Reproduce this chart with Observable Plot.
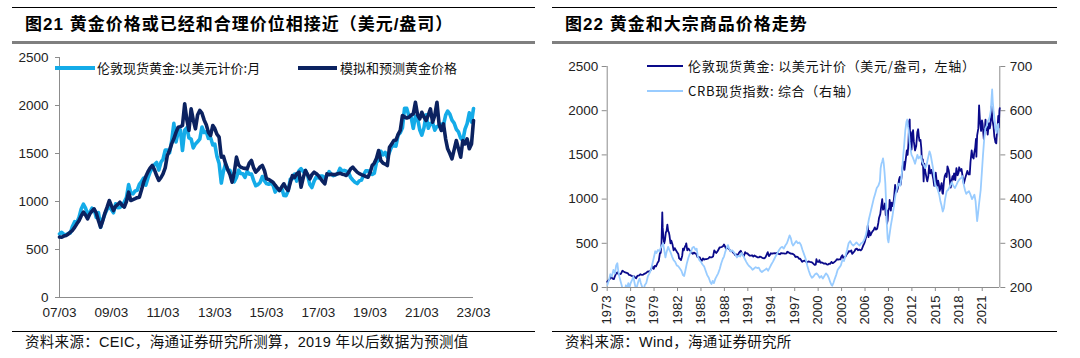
<!DOCTYPE html>
<html><head><meta charset="utf-8">
<script src="https://cdn.jsdelivr.net/npm/d3@7"></script>
<script src="https://cdn.jsdelivr.net/npm/@observablehq/plot@0.6"></script>
<style>
html,body{margin:0;padding:0;background:#fff;width:1080px;height:358px;overflow:hidden;}
.abs{position:absolute;}
.title{font-family:"Liberation Sans","Noto Sans CJK SC",sans-serif;font-weight:bold;font-size:17px;line-height:20px;color:#000;white-space:nowrap;letter-spacing:1px;}
.cap{font-family:"Liberation Sans","Noto Sans CJK SC",sans-serif;font-size:14.5px;line-height:16px;color:#111;white-space:nowrap;letter-spacing:0.3px;}
.leg{font-family:"Noto Sans CJK SC",sans-serif;font-size:13px;line-height:16px;color:#111;white-space:nowrap;}
.leg2{letter-spacing:0.7px;}
.rule{position:absolute;}
svg{overflow:visible;}
</style></head>
<body>
<script>
// ---------- Left chart data (monthly, 2007-03 .. 2023-03) ----------
const leftStart = [2007, 3];
const spotGold = [
662,679,659,651,666,672,743,790,784,834,
923,972,934,871,886,930,918,833,885,731,815,870,
920,943,917,883,976,935,939,956,996,1040,1176,1088,
1079,1110,1116,1179,1208,1244,1169,1246,1308,1347,1384,1406,
1327,1411,1439,1536,1537,1506,1629,1814,1620,1722,1746,1531,
1744,1770,1663,1651,1558,1599,1622,1649,1776,1719,1726,1658,
1665,1589,1598,1469,1395,1192,1315,1395,1327,1324,1253,1205,
1251,1327,1292,1289,1251,1315,1285,1286,1217,1164,1176,1199,
1260,1214,1187,1180,1189,1171,1098,1135,1114,1142,1062,1060,
1112,1235,1237,1286,1212,1321,1342,1309,1323,1272,1178,1146,
1213,1256,1245,1266,1266,1242,1268,1312,1283,1270,1280,1291,
1345,1318,1324,1315,1305,1250,1224,1201,1187,1215,1223,1279,
1320,1319,1295,1283,1296,1409,1428,1523,1485,1511,1460,1515,
1573,1586,1577,1694,1716,1768,1971,1970,1887,1880,1762,1888,
1863,1743,1691,1768,1903,1763,1812,1819,1743,1782,1785,1806,
1797,1900,1942,1911,1848,1817,1753,1726,1661,1634,1754,1812,
1924,1827,1969
];
const modelGold = [
630,628,640,646,660,681,700,730,767,800,
850,889,860,819,870,900,924,880,800,733,800,880,
941,1010,960,906,950,970,993,960,941,1000,1097,1010,
1020,1030,1040,1045,1120,1201,1260,1310,1350,1375,1330,1270,
1219,1250,1288,1350,1480,1531,1600,1653,1720,1774,1780,1792,
2017,1850,1740,1965,1850,1757,1900,1948,1920,1850,1800,1720,
1688,1792,1760,1700,1670,1462,1470,1393,1330,1280,1201,1300,
1462,1380,1358,1350,1345,1340,1400,1427,1350,1306,1330,1360,
1375,1320,1236,1230,1215,1201,1170,1140,1115,1150,1184,1140,
1115,1200,1271,1250,1290,1306,1149,1250,1323,1280,1236,1280,
1306,1290,1271,1240,1210,1184,1288,1280,1285,1280,1280,1290,
1295,1285,1280,1271,1300,1340,1358,1330,1306,1290,1280,1271,
1260,1253,1300,1375,1400,1450,1531,1427,1400,1390,1375,1566,
1600,1635,1640,1700,1740,1896,1880,1870,1878,1900,1913,2034,
1900,1861,1930,1880,1844,1900,1965,1826,1900,2034,1800,1740,
1809,1650,1549,1500,1444,1540,1635,1550,1462,1635,1600,1653,
1549,1600,1844
];
const leftYTicks = [0,500,1000,1500,2000,2500];
const leftXTickYears = [2007,2009,2011,2013,2015,2017,2019,2021,2023];
const leftLegend = ["伦敦现货黄金:以美元计价:月","模拟和预测黄金价格"];

// ---------- Right chart data (decimal year, value) ----------
const goldLondon = [
[1973.0,65],[1973.15,80],[1973.3,92],[1973.45,120],[1973.55,115],[1973.7,100],[1973.85,95],
[1974.0,130],[1974.15,160],[1974.3,172],[1974.45,150],[1974.6,150],[1974.75,155],[1974.95,190],
[1975.1,180],[1975.3,170],[1975.5,165],[1975.65,160],[1975.8,142],[1975.95,140],
[1976.1,132],[1976.25,128],[1976.45,125],[1976.6,110],[1976.7,105],[1976.85,130],[1976.95,134],
[1977.1,138],[1977.25,150],[1977.45,142],[1977.6,145],[1977.75,155],[1977.95,162],
[1978.1,175],[1978.25,182],[1978.45,180],[1978.6,200],[1978.8,240],[1978.95,210],
[1979.1,245],[1979.25,240],[1979.45,280],[1979.6,300],[1979.75,390],[1979.85,390],[1979.95,500],
[1980.05,850],[1980.1,680],[1980.2,560],[1980.3,500],[1980.4,540],[1980.5,620],[1980.6,640],[1980.7,710],[1980.8,640],[1980.9,620],[1980.97,590],
[1981.1,500],[1981.2,530],[1981.35,490],[1981.5,420],[1981.65,445],[1981.8,420],[1981.95,400],
[1982.1,380],[1982.2,330],[1982.35,320],[1982.45,310],[1982.6,360],[1982.7,440],[1982.8,420],[1982.9,450],
[1983.05,480],[1983.12,500],[1983.25,420],[1983.4,440],[1983.55,420],[1983.7,410],[1983.85,390],[1983.95,380],
[1984.1,395],[1984.25,385],[1984.4,380],[1984.55,345],[1984.7,345],[1984.85,340],[1984.95,320],
[1985.1,300],[1985.25,330],[1985.4,315],[1985.55,320],[1985.7,320],[1985.85,325],[1985.95,328],
[1986.1,345],[1986.25,340],[1986.4,342],[1986.55,350],[1986.7,420],[1986.85,400],[1986.95,390],
[1987.1,405],[1987.25,430],[1987.4,455],[1987.55,455],[1987.7,460],[1987.85,470],[1987.95,486],
[1988.05,470],[1988.2,440],[1988.35,450],[1988.5,440],[1988.65,430],[1988.8,410],[1988.95,415],
[1989.1,395],[1989.25,385],[1989.4,365],[1989.55,375],[1989.7,360],[1989.85,390],[1989.97,405],
[1990.1,415],[1990.25,380],[1990.4,365],[1990.5,355],[1990.65,400],[1990.8,385],[1990.95,385],
[1991.1,370],[1991.25,360],[1991.4,360],[1991.55,365],[1991.7,350],[1991.85,362],[1991.95,355],
[1992.1,350],[1992.25,340],[1992.4,340],[1992.55,350],[1992.7,345],[1992.85,335],[1992.95,333],
[1993.1,330],[1993.25,340],[1993.4,370],[1993.55,400],[1993.7,355],[1993.85,372],[1993.95,388],
[1994.1,382],[1994.25,385],[1994.45,388],[1994.6,385],[1994.75,392],[1994.95,380],
[1995.1,376],[1995.25,390],[1995.45,385],[1995.6,385],[1995.75,383],[1995.95,387],
[1996.05,405],[1996.15,400],[1996.3,392],[1996.5,383],[1996.7,382],[1996.85,375],[1996.95,368],
[1997.1,345],[1997.25,350],[1997.4,345],[1997.55,325],[1997.7,325],[1997.85,305],[1997.95,290],
[1998.1,300],[1998.25,305],[1998.45,292],[1998.6,285],[1998.75,295],[1998.95,290],
[1999.1,288],[1999.25,282],[1999.45,265],[1999.55,256],[1999.7,260],[1999.78,320],[1999.85,300],[1999.95,290],
[2000.1,290],[2000.15,310],[2000.3,280],[2000.45,285],[2000.6,278],[2000.75,270],[2000.95,272],
[2001.1,262],[2001.25,258],[2001.4,270],[2001.55,267],[2001.7,290],[2001.85,276],[2001.95,278],
[2002.1,290],[2002.25,302],[2002.4,320],[2002.55,315],[2002.7,318],[2002.85,318],[2002.95,345],
[2003.1,365],[2003.2,335],[2003.35,345],[2003.5,350],[2003.65,375],[2003.8,390],[2003.95,412],
[2004.1,405],[2004.25,420],[2004.35,380],[2004.5,395],[2004.65,410],[2004.8,435],[2004.95,440],
[2005.1,422],[2005.25,430],[2005.45,420],[2005.6,435],[2005.75,470],[2005.9,500],[2005.97,515],
[2006.1,560],[2006.25,600],[2006.35,700],[2006.45,570],[2006.55,640],[2006.7,590],[2006.85,620],[2006.95,635],
[2007.1,650],[2007.25,680],[2007.4,655],[2007.55,665],[2007.7,730],[2007.8,790],[2007.95,830],
[2008.05,900],[2008.2,1000],[2008.3,880],[2008.45,900],[2008.55,950],[2008.65,820],[2008.75,870],[2008.8,720],[2008.9,760],[2008.97,870],
[2009.1,900],[2009.15,990],[2009.3,870],[2009.4,960],[2009.55,920],[2009.7,1000],[2009.85,1160],[2009.95,1090],
[2010.05,1080],[2010.2,1120],[2010.35,1220],[2010.45,1250],[2010.55,1160],[2010.7,1270],[2010.85,1390],[2010.97,1420],
[2011.05,1330],[2011.2,1440],[2011.35,1550],[2011.45,1500],[2011.55,1620],[2011.65,1880],[2011.72,1900],[2011.78,1620],[2011.85,1760],[2011.95,1560],
[2012.05,1720],[2012.15,1780],[2012.25,1650],[2012.4,1550],[2012.55,1600],[2012.7,1760],[2012.8,1790],[2012.9,1700],[2012.97,1660],
[2013.1,1670],[2013.2,1580],[2013.3,1390],[2013.4,1450],[2013.5,1200],[2013.6,1400],[2013.7,1320],[2013.85,1250],[2013.97,1200],
[2014.1,1260],[2014.2,1380],[2014.35,1290],[2014.5,1330],[2014.6,1290],[2014.75,1220],[2014.85,1150],[2014.97,1200],
[2015.05,1300],[2015.15,1220],[2015.25,1150],[2015.35,1210],[2015.45,1170],[2015.55,1090],[2015.7,1140],[2015.8,1180],[2015.9,1070],[2015.97,1060],
[2016.1,1200],[2016.2,1260],[2016.35,1290],[2016.45,1250],[2016.55,1370],[2016.7,1330],[2016.8,1270],[2016.9,1170],[2016.97,1130],
[2017.1,1220],[2017.2,1260],[2017.3,1220],[2017.4,1290],[2017.55,1215],[2017.7,1350],[2017.85,1270],[2017.97,1300],
[2018.05,1360],[2018.2,1320],[2018.35,1340],[2018.5,1250],[2018.65,1175],[2018.8,1230],[2018.97,1280],
[2019.1,1320],[2019.25,1280],[2019.4,1280],[2019.5,1420],[2019.65,1550],[2019.75,1480],[2019.9,1460],[2019.97,1520],
[2020.1,1580],[2020.2,1680],[2020.25,1480],[2020.35,1720],[2020.5,1800],[2020.6,2060],[2020.7,1900],[2020.85,1770],[2020.97,1890],
[2021.05,1850],[2021.2,1680],[2021.35,1800],[2021.42,1900],[2021.5,1780],[2021.6,1820],[2021.7,1730],[2021.85,1860],[2021.97,1800],
[2022.05,1840],[2022.18,2050],[2022.3,1900],[2022.45,1820],[2022.55,1710],[2022.7,1640],[2022.8,1630],[2022.9,1780],[2022.97,1820],
[2023.05,1940],[2023.12,1810],[2023.2,2000],[2023.25,2030]
];
const crbSpot = [
[1973.0,205],[1973.2,215],[1973.4,230],[1973.6,225],[1973.8,240],[1974.0,232],[1974.15,250],[1974.3,255],[1974.4,240],[1974.55,225],[1974.7,215],[1974.85,205],
[1975.0,195],[1975.2,192],[1975.4,205],[1975.55,198],[1975.7,210],[1975.85,200],[1976.0,210],[1976.2,218],[1976.35,225],[1976.5,210],[1976.7,195],[1976.85,205],
[1977.0,215],[1977.15,220],[1977.3,210],[1977.5,200],[1977.65,192],[1977.8,205],[1978.0,210],[1978.2,225],[1978.4,232],[1978.6,240],[1978.8,255],
[1979.0,270],[1979.15,282],[1979.3,278],[1979.5,285],[1979.7,282],[1979.85,290],[1980.0,295],[1980.15,300],[1980.3,285],[1980.45,268],[1980.6,280],[1980.8,292],[1980.95,285],
[1981.1,280],[1981.3,270],[1981.5,262],[1981.7,258],[1981.9,250],[1982.1,248],[1982.3,243],[1982.5,238],[1982.7,228],[1982.85,226],
[1983.0,238],[1983.2,255],[1983.4,268],[1983.55,275],[1983.75,282],[1983.9,290],[1984.1,292],[1984.3,285],[1984.45,288],[1984.6,270],[1984.8,262],
[1985.0,258],[1985.2,252],[1985.4,248],[1985.6,238],[1985.8,228],[1986.0,222],[1986.2,212],[1986.35,208],[1986.5,215],[1986.65,210],[1986.85,220],
[1987.0,225],[1987.2,232],[1987.4,242],[1987.6,255],[1987.8,265],[1987.95,270],[1988.1,280],[1988.3,290],[1988.45,296],[1988.6,288],[1988.8,282],
[1989.0,284],[1989.2,280],[1989.4,275],[1989.6,268],[1989.8,272],[1990.0,270],[1990.2,278],[1990.4,272],[1990.6,265],[1990.8,258],
[1991.0,252],[1991.2,248],[1991.4,245],[1991.6,240],[1991.8,243],[1992.0,246],[1992.2,244],[1992.4,245],[1992.6,238],[1992.8,235],
[1993.0,238],[1993.2,240],[1993.4,243],[1993.6,238],[1993.8,245],[1994.0,252],[1994.2,258],[1994.4,265],[1994.6,272],[1994.8,278],
[1995.0,285],[1995.2,290],[1995.4,292],[1995.6,288],[1995.8,295],[1996.0,300],[1996.2,310],[1996.35,318],[1996.5,312],[1996.65,300],[1996.8,295],
[1997.0,300],[1997.2,305],[1997.4,300],[1997.6,302],[1997.8,296],[1998.0,285],[1998.2,275],[1998.4,265],[1998.6,250],[1998.8,238],
[1999.0,228],[1999.2,222],[1999.4,225],[1999.6,230],[1999.8,232],[2000.0,228],[2000.2,222],[2000.4,226],[2000.6,220],[2000.8,226],
[2001.0,232],[2001.2,228],[2001.4,220],[2001.55,212],[2001.7,206],[2001.8,204],[2001.95,210],[2002.1,218],[2002.3,228],[2002.5,240],[2002.7,245],[2002.9,250],
[2003.1,262],[2003.3,260],[2003.5,272],[2003.7,285],[2003.9,300],[2004.1,305],[2004.3,298],[2004.5,295],[2004.7,298],[2004.9,302],
[2005.1,298],[2005.3,295],[2005.5,300],[2005.7,302],[2005.9,308],[2006.1,318],[2006.3,335],[2006.5,355],[2006.7,370],[2006.9,385],
[2007.1,400],[2007.3,412],[2007.5,425],[2007.7,430],[2007.9,440],[2008.0,470],[2008.1,480],[2008.2,485],[2008.3,492],[2008.4,480],[2008.5,460],[2008.6,435],[2008.7,390],[2008.8,340],[2008.9,310],
[2009.0,302],[2009.1,315],[2009.3,340],[2009.5,360],[2009.7,385],[2009.9,410],[2010.1,425],[2010.3,435],[2010.5,430],[2010.7,455],[2010.9,500],
[2011.0,520],[2011.15,555],[2011.3,575],[2011.4,580],[2011.5,565],[2011.6,555],[2011.7,530],[2011.8,515],[2011.95,500],
[2012.1,495],[2012.25,488],[2012.4,480],[2012.55,490],[2012.7,500],[2012.85,492],[2013.0,495],[2013.15,498],[2013.3,485],[2013.5,478],[2013.7,470],[2013.85,475],
[2014.0,488],[2014.15,500],[2014.25,508],[2014.4,500],[2014.55,485],[2014.7,470],[2014.85,450],[2015.0,430],[2015.15,428],[2015.3,422],[2015.5,410],[2015.65,395],[2015.8,385],[2015.95,372],
[2016.1,380],[2016.25,400],[2016.45,418],[2016.6,420],[2016.75,425],[2016.95,432],[2017.1,438],[2017.3,430],[2017.5,425],[2017.7,432],[2017.9,440],
[2018.1,445],[2018.3,448],[2018.45,452],[2018.6,435],[2018.8,420],[2018.95,412],[2019.1,415],[2019.3,418],[2019.5,410],[2019.7,400],[2019.85,405],
[2020.0,410],[2020.15,395],[2020.3,360],[2020.35,350],[2020.45,365],[2020.6,390],[2020.8,420],[2020.95,460],
[2021.1,500],[2021.25,535],[2021.4,560],[2021.55,565],[2021.7,575],[2021.85,580],[2021.95,585],
[2022.1,600],[2022.2,630],[2022.27,648],[2022.35,620],[2022.45,600],[2022.55,585],[2022.7,560],[2022.85,550],[2022.95,565],
[2023.05,570],[2023.15,555],[2023.25,540]
];
const rightYearTicks = [1973,1976,1979,1982,1985,1988,1991,1994,1997,2000,2003,2006,2009,2012,2015,2018,2021];
const goldTicks = [0,500,1000,1500,2000,2500];
const crbTicks = [200,300,400,500,600,700];
const rightLegend = ["伦敦现货黄金: 以美元计价（美元/盎司，左轴）","CRB现货指数: 综合（右轴）"];

const titles = ["图21 黄金价格或已经和合理价位相接近（美元/盎司）","图22 黄金和大宗商品价格走势"];
const captions = ["资料来源：CEIC，海通证券研究所测算，2019 年以后数据为预测值","资料来源：Wind，海通证券研究所"];

// ---------- helpers ----------
function el(tag, cls, css, text){
  const e = document.createElement(tag);
  if (cls) e.className = cls;
  Object.assign(e.style, css);
  if (text != null) e.textContent = text;
  document.body.appendChild(e);
  return e;
}
function panelFrame(x0, x1, title, caption, titleX){
  el("div","rule",{left:x0+"px",top:"7px",width:(x1-x0)+"px",height:"1px",background:"#000"});
  el("div","rule",{left:x0+"px",top:"41px",width:(x1-x0)+"px",height:"2.5px",background:"#7f7f7f"});
  el("div","rule",{left:x0+"px",top:"331px",width:(x1-x0)+"px",height:"1px",background:"#000"});
  el("div","abs title",{left:titleX+"px",top:"15px"},title);
  el("div","abs cap",{left:titleX+"px",top:"334px"},caption);
}
panelFrame(12, 535, titles[0], captions[0], 25);
panelFrame(552, 1057, titles[1], captions[1], 565);

const axisColor = "#8c8c8c";
const tickFont = {fontFamily:"Liberation Sans, Arial, sans-serif", fontSize:"13.5px", color:"#222", background:"transparent"};

// ---------- left chart ----------
const months = spotGold.map((_, i) => new Date(Date.UTC(leftStart[0], leftStart[1]-1+i, 1)));
const leftData = months.map((d,i) => ({date:d, spot:spotGold[i], model:modelGold[i]}));
const leftXTicks = leftXTickYears.map(y => new Date(Date.UTC(y, 2, 1)));
const leftPlot = Plot.plot({
  width:540, height:285,
  marginLeft:59, marginRight:67, marginTop:12, marginBottom:33,
  style: tickFont,
  x:{type:"utc", domain:[months[0], months[months.length-1]]},
  y:{domain:[0,2500]},
  marks:[
    Plot.axisX({ticks:leftXTicks, tickSize:0, tickPadding:10, tickFormat:d3.utcFormat("%y/%m")}),
    Plot.axisY({ticks:leftYTicks, tickSize:4, tickPadding:7, stroke:axisColor, tickFormat:d=>String(d)}),
    Plot.ruleX([months[0]], {stroke:axisColor}),
    Plot.ruleY([0], {stroke:axisColor}),
    Plot.line(leftData, {x:"date", y:"spot", stroke:"#14ABE8", strokeWidth:3.6}),
    Plot.line(leftData, {x:"date", y:"model", stroke:"#0B2260", strokeWidth:3.6})
  ]
});
const lw = el("div","abs",{left:"0px",top:"45px"});
lw.appendChild(leftPlot);

// left legend
el("div","rule",{left:"55px",top:"66px",width:"40px",height:"4px",background:"#14ABE8"});
el("div","abs leg",{left:"97px",top:"60px"},leftLegend[0]);
el("div","rule",{left:"298px",top:"66px",width:"39px",height:"4px",background:"#0B2260"});
el("div","abs leg",{left:"340px",top:"60px"},leftLegend[1]);

// ---------- right chart ----------
const crbToLeft = v => (v - 200) * 5;
const rightPlot = Plot.plot({
  width:540, height:285,
  marginLeft:66.7, marginRight:80.7, marginTop:21, marginBottom:43,
  style: tickFont,
  x:{domain:[1973, 2023.25]},
  y:{domain:[0,2500]},
  marks:[
    Plot.axisX({ticks:rightYearTicks, tickRotate:-90, tickSize:4, tickPadding:4, stroke:axisColor, fontSize:13, tickFormat:d=>String(d)}),
    Plot.axisY({ticks:goldTicks, anchor:"left", tickSize:5, tickPadding:4, stroke:axisColor, tickFormat:d=>String(d)}),
    Plot.axisY({ticks:crbTicks.map(crbToLeft), anchor:"right", tickSize:5, tickPadding:5, stroke:axisColor, tickFormat:d=>String(d/5+200)}),
    Plot.ruleX([1973], {stroke:axisColor}),
    Plot.ruleX([2023.25], {stroke:axisColor}),
    Plot.ruleY([0], {stroke:axisColor}),
    Plot.line(goldLondon, {x:d=>d[0], y:d=>d[1], stroke:"#0A0A8A", strokeWidth:1.8}),
    Plot.line(crbSpot, {x:d=>d[0], y:d=>crbToLeft(d[1]), stroke:"#99CCFF", strokeWidth:1.8, clip:true})
  ]
});
const rw = el("div","abs",{left:"540px",top:"45px"});
rw.appendChild(rightPlot);

// right legend
el("div","rule",{left:"647px",top:"65px",width:"36px",height:"2px",background:"#0A0A8A"});
el("div","abs leg leg2",{left:"688px",top:"58px"},rightLegend[0]);
el("div","rule",{left:"647px",top:"90px",width:"36px",height:"2px",background:"#99CCFF"});
el("div","abs leg leg2",{left:"688px",top:"83px"},rightLegend[1]);
</script>
</body></html>
